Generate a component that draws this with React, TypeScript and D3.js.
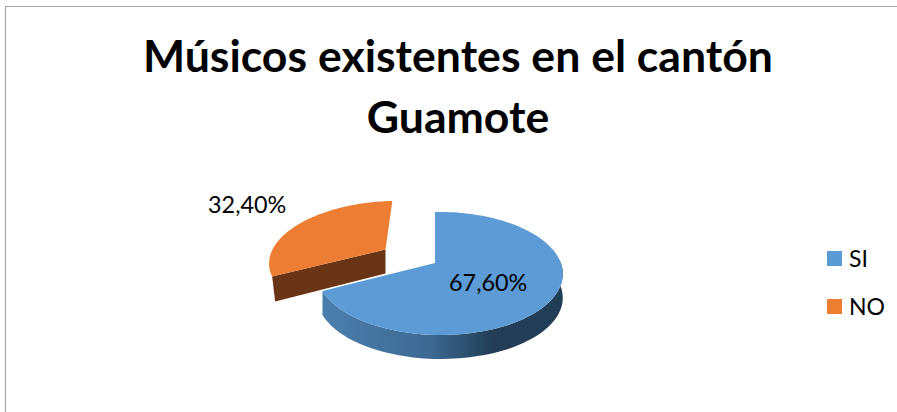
import React from "react";
import * as d3 from "d3";

const categories = ["SI", "NO"];
const values = [67.6, 32.4];
const valueLabels = ["67,60%", "32,40%"];
const titleLines = ["Músicos existentes en el cantón", "Guamote"];

const FONT = "Lato, Carlito, Calibri, sans-serif";
const W = 897, H = 412;
const cx = 435, cy = 263, rx = 120.8, ry = 59.7, kY = 0.17, kX = 0.04, depth = 24;

type P = [number, number];
const project = (a: number, r: number, ox = 0, oy = 0): P => {
  const X = r * Math.sin(a) + ox;
  const Y = r * Math.cos(a) + oy;
  const den = 1 + kY * Y - kX * X;
  return [cx + (rx * X) / den, cy - (ry * Y) / den];
};
const down = (p: P): P => [p[0], p[1] + depth];
const path = (pts: P[]) => (d3.line()(pts as [number, number][]) || "") + "Z";

const arcs = d3.pie<number>().sort(null)(values);
const explode = [0, 0.49];
const radius = [1, 1.05];

function samples(a0: number, a1: number, r: number, ox: number, oy: number): P[] {
  return d3.range(0, 121).map((i) => project(a0 + ((a1 - a0) * i) / 120, r, ox, oy));
}

export default function App() {
  const slices = arcs.map((d, i) => {
    const mid = (d.startAngle + d.endAngle) / 2;
    const ox = explode[i] * Math.sin(mid);
    const oy = explode[i] * Math.cos(mid);
    const rim = samples(d.startAngle, d.endAngle, radius[i], ox, oy);
    const apex = project(0, 0, ox, oy);
    return { rim, apex };
  });
  const blue = slices[0];
  const orange = slices[1];
  const blueWall = blue.rim.filter((p) => p[1] > blue.apex[1] - 4);
  const lowBottom = down(orange.rim[0]);
  const orangeCut: P[] = [orange.apex, down(orange.apex), [lowBottom[0] + 3, lowBottom[1] + 1], orange.rim[0]];

  return (
    <svg width={W} height={H} style={{ position: "absolute", left: 0, top: 0 }}>
      <defs>
        <linearGradient id="wall" gradientUnits="userSpaceOnUse" x1={322} x2={562} y1={0} y2={0}>
          <stop offset="0" stopColor="#4b7fae" />
          <stop offset="0.45" stopColor="#3d6992" />
          <stop offset="0.72" stopColor="#213c54" />
          <stop offset="1" stopColor="#233e56" />
        </linearGradient>
        <filter id="soft" x="-5%" y="-5%" width="110%" height="110%">
          <feGaussianBlur stdDeviation="0.6" />
        </filter>
      </defs>
      <rect width={W} height={H} fill="#fff" />
      <path d={`M5.5 412V6.5H897`} fill="none" stroke="#a6a6a6" strokeWidth={1.2} />
      {titleLines.map((t, i) => (
        <text key={t} x={458} y={72 + i * 61} textAnchor="middle" fontFamily={FONT} fontWeight={700} fontSize={44.6} fill="#000">
          {t}
        </text>
      ))}
      <g filter="url(#soft)">
        <path d={path([...blueWall, ...blueWall.map(down).reverse()])} fill="url(#wall)" />
        <path d={path([blue.apex, ...blue.rim])} fill="#5b9bd5" />
        <g transform="translate(-2 1)">
          <path d={path(orangeCut)} fill="#6b3612" />
          <path d={path([orange.apex, ...orange.rim])} fill="#ed7d31" />
        </g>
      </g>
      <text x={449} y={291} fontFamily={FONT} fontSize={23.4} fill="#000">{valueLabels[0]}</text>
      <text x={208} y={213} fontFamily={FONT} fontSize={23.4} fill="#000">{valueLabels[1]}</text>
      {categories.map((c, i) => (
        <g key={c}>
          <rect x={827} y={251 + i * 48} width={15} height={15} fill={i === 0 ? "#5b9bd5" : "#ed7d31"} />
          <text x={849} y={267 + i * 47.5} fontFamily={FONT} fontSize={23} fill="#000">{c}</text>
        </g>
      ))}
    </svg>
  );
}
